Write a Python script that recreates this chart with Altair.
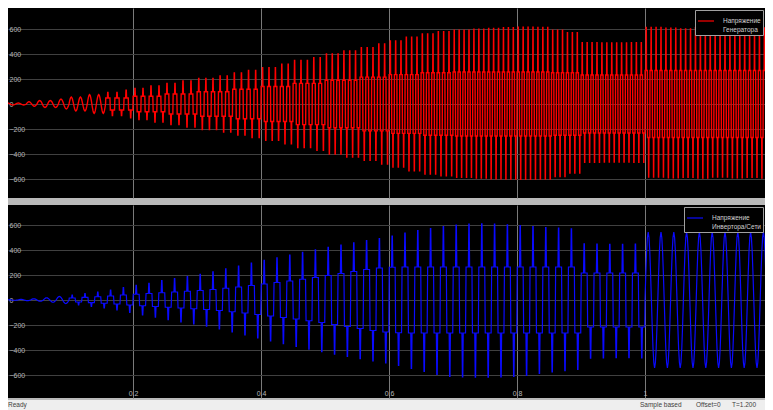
import altair as alt
import pandas as pd

# ---------------- axes ----------------
X_TICKS = [0.2, 0.4, 0.6, 0.8, 1.0]
Y_TICKS = [-600, -400, -200, 0, 200, 400, 600]
X_DOMAIN = [0.0047, 1.1875]
TOP_Y_DOMAIN = [-752, 768]
BOT_Y_DOMAIN = [-784, 760]

# ---------------- blue: inverter / grid voltage, 50 Hz, one value per cycle ----------------
blue_pos = [2, 5, 10, 18, 28, 40, 52, 64, 80, 100,
            118, 134, 155, 172, 188, 205, 225, 250, 272, 295,
            318, 338, 360, 382, 402, 422, 440, 458, 475, 492,
            512, 536, 556, 572, 588, 600, 608, 610, 608, 602,
            596, 588, 580, 576, 570, 450, 448, 446, 446, 448,
            544, 544, 544, 544, 544, 544, 544, 544, 544, 544]
blue_neg = [-2, -5, -10, -18, -28, -40, -52, -64, -80, -100,
            -120, -138, -158, -176, -192, -210, -232, -256, -280, -304,
            -328, -350, -372, -394, -414, -434, -452, -470, -488, -504,
            -524, -548, -572, -596, -612, -616, -618, -618, -616, -612,
            -604, -588, -576, -566, -556, -466, -464, -462, -462, -464,
            -544, -544, -544, -544, -544, -544, -544, -544, -544, -544]
blue_mid = [1, 2, 4, 7, 11, 16, 21, 26, 32, 40,
            46, 52, 58, 64, 70, 76, 84, 94, 104, 116,
            128, 140, 152, 166, 180, 196, 212, 228, 244, 256,
            262, 264, 264, 264, 264, 264, 264, 264, 264, 264,
            264, 264, 264, 264, 264, 216, 216, 216, 216, 216,
            0, 0, 0, 0, 0, 0, 0, 0, 0, 0]
# s = smooth cycle, q = stepped (multilevel) cycle
blue_shape = "sssss" + "qqqqqqqqqqqqqqqqqqqqqqqqqqqqqqqqqqqqqqqqqqqqq" + "ssssssssss"
BLUE_PERIOD = 0.02

# ---------------- red: generator voltage ----------------
red_cycles = [6, 7, 8, 9, 10, 11, 12, 13, 13, 13, 13, 13]          # cycles per 0.1 s
red_pos = [8, 18, 28, 40, 56, 75, 92, 110, 125, 145, 165, 185,
           205, 225, 248, 268, 290, 318, 348, 370, 400, 425, 450, 480,
           505, 535, 560, 578, 590, 598, 604, 610, 614, 612, 590, 570,
           490, 488, 488, 490, 612, 606, 600, 610, 604, 612, 600, 608]   # per 0.025 s
red_neg = [-8, -18, -28, -40, -56, -75, -92, -110, -125, -145, -165, -185,
           -205, -225, -248, -268, -290, -318, -348, -370, -400, -425, -450, -480,
           -505, -535, -560, -575, -586, -592, -598, -600, -602, -600, -580, -552,
           -466, -464, -464, -466, -584, -590, -586, -592, -584, -590, -586, -592]
red_mid = [8, 18, 32, 48, 62, 80, 98, 118, 140, 165, 190, 215,
           235, 250, 256, 256, 256, 250, 232, 232, 268, 268, 268, 268]      # per 0.05 s
red_shape = "sss" + "qqqqqqqqqqqqqqqqqqqqq"                                # per 0.05 s

# ---------------- cycle shape templates ----------------
STEP_PHASE = [0.0, 0.02, 0.20, 0.235, 0.265, 0.30, 0.48, 0.50, 0.52, 0.70, 0.735, 0.765, 0.80, 0.98]
STEP_KIND = ["0", "m", "m", "p", "p", "m", "m", "0", "-m", "-m", "n", "n", "-m", "-m"]
SINE_PHASE = [i / 16 for i in range(16)]
SINE_LEVEL = [0, .38, .71, .92, 1, .92, .71, .38, 0, -.38, -.71, -.92, -1, -.92, -.71, -.38]


def cycle_points(t0, period, P, N, M, shape):
    pts = []
    if shape == "s":
        for ph, lv in zip(SINE_PHASE, SINE_LEVEL):
            v = lv * P if lv >= 0 else lv * (-N)
            pts.append((t0 + ph * period, v))
    else:
        lookup = {"0": 0, "m": M, "p": P, "-m": -M, "n": N}
        for ph, k in zip(STEP_PHASE, STEP_KIND):
            pts.append((t0 + ph * period, lookup[k]))
    return pts


blue_rows = []
for k in range(len(blue_pos)):
    for t, v in cycle_points(k * BLUE_PERIOD, BLUE_PERIOD, blue_pos[k], blue_neg[k], blue_mid[k], blue_shape[k]):
        blue_rows.append({"t": t, "v": v})

red_rows = []
for seg, n in enumerate(red_cycles):
    period = 0.1 / n
    for j in range(n):
        t0 = seg * 0.1 + j * period
        i = min(int(t0 / 0.025 + 1e-9), len(red_pos) - 1)
        i2 = min(int(t0 / 0.05 + 1e-9), len(red_mid) - 1)
        for t, v in cycle_points(t0, period, red_pos[i], red_neg[i], red_mid[i2], red_shape[i2]):
            red_rows.append({"t": t, "v": v})

RED_LABEL = "Напряжение|Генератора"
BLUE_LABEL = "Напряжение|Инвертора/Сети"
df_red = pd.DataFrame(red_rows)
df_red["series"] = RED_LABEL
df_blue = pd.DataFrame(blue_rows)
df_blue["series"] = BLUE_LABEL

W = 757
FONT = "Liberation Sans"


def legend():
    return alt.Legend(orient="top-right", offset=2, title=None, fillColor="black",
                      strokeColor="#a0a0a0", padding=2, symbolType="stroke", symbolSize=256,
                      symbolStrokeWidth=1.2, labelColor="#d0d0d0", labelFont=FONT,
                      labelFontSize=6.5, labelOffset=8, cornerRadius=0, labelLimit=0,
                      labelExpr="split(datum.label, '|')")


def y_axis():
    return alt.Axis(values=Y_TICKS, grid=True, gridColor="#404040", gridWidth=1.2,
                    domain=False, ticks=False, tickSize=0, labelAlign="left", labelPadding=-1,
                    labelColor="#b8b8b8", labelFont=FONT, labelFontSize=7,
                    labelBaseline="middle", title=None, minExtent=0, maxExtent=0,
                    labelFlush=False, labelOverlap=False)


def panel(df, color, label, ydom, height, x_labels, sw):
    if x_labels:
        xa = alt.Axis(values=X_TICKS, grid=True, gridColor="#7a7a7a", gridWidth=1,
                      domain=False, ticks=False, tickSize=0, labelPadding=-3,
                      labelBaseline="alphabetic",
                      labelColor="#b8b8b8", labelFont=FONT, labelFontSize=7, format="~g",
                      title=None, minExtent=0, maxExtent=0, labelFlush=False)
    else:
        xa = alt.Axis(values=X_TICKS, grid=True, gridColor="#7a7a7a", gridWidth=1,
                      domain=False, ticks=False, tickSize=0, labels=False, title=None,
                      minExtent=0, maxExtent=0)
    return alt.Chart(df).mark_line(strokeWidth=sw, clip=True).encode(
        x=alt.X("t:Q", scale=alt.Scale(domain=X_DOMAIN, nice=False, zero=False), axis=xa),
        y=alt.Y("v:Q", scale=alt.Scale(domain=ydom, nice=False, zero=False), axis=y_axis()),
        color=alt.Color("series:N", scale=alt.Scale(domain=[label], range=[color]), legend=legend()),
    ).properties(width=W, height=height,
                 view=alt.ViewBackground(fill="black", stroke="transparent", strokeWidth=0))


top = panel(df_red, "#ff0000", RED_LABEL, TOP_Y_DOMAIN, 190, False, 1.4)
bottom = panel(df_blue, "#0a0aff", BLUE_LABEL, BOT_Y_DOMAIN, 193, True, 1.2)

status_texts = []
for txt, xpos in [("Ready", 0), ("Sample based", 632), ("Offset=0", 688), ("T=1.200", 724)]:
    status_texts.append(
        alt.Chart(pd.DataFrame({"s": [txt]})).mark_text(
            align="left", baseline="middle", font=FONT, fontSize=6.5, color="#404040"
        ).encode(text="s:N", x=alt.value(xpos), y=alt.value(5))
    )
status = alt.layer(*status_texts).properties(
    width=W, height=10,
    view=alt.ViewBackground(fill="#eeeeee", stroke="transparent", strokeWidth=0))

scopes = alt.vconcat(top, bottom, spacing=7).resolve_scale(color="independent")
chart = alt.vconcat(scopes, status, spacing=2).properties(padding=0).configure(
    background="#b9b9b9"
).configure_view(stroke="transparent", strokeWidth=0)

chart.save("out.html", embed_options={"renderer": "svg", "actions": False})
